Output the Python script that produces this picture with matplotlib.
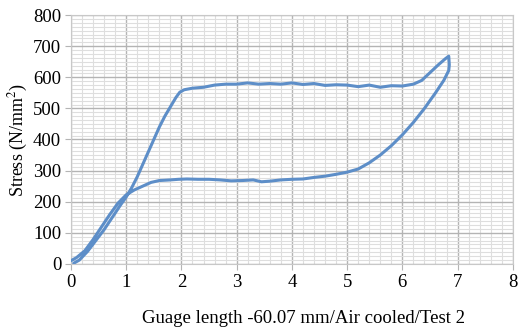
import matplotlib.pyplot as plt
from matplotlib.ticker import MultipleLocator

plt.rcParams['font.family'] = ['Liberation Serif', 'DejaVu Serif']
plt.rcParams['mathtext.fontset'] = 'stix'

# loading part (0 -> peak)
load_x = [0.05, 0.15, 0.3, 0.45, 0.6, 0.75, 0.9, 1.0, 1.1, 1.2, 1.3, 1.4, 1.5, 1.6,
          1.7, 1.8, 1.9, 1.97, 2.05, 2.2, 2.4, 2.6, 2.8, 3.0, 3.2, 3.4, 3.6, 3.8,
          4.0, 4.2, 4.4, 4.6, 4.8, 5.0, 5.2, 5.4, 5.6, 5.8, 6.0, 6.2, 6.35, 6.5,
          6.65, 6.78, 6.84]
load_y = [2, 12, 40, 75, 110, 150, 190, 215, 245, 280, 320, 360, 400, 440,
          475, 505, 535, 552, 560, 565, 568, 575, 578, 578, 582, 578, 580, 578,
          582, 577, 580, 574, 576, 575, 570, 575, 568, 573, 572, 578, 590, 615,
          640, 660, 668]
# unloading part (peak -> back to 0)
unload_x = [6.85, 6.84, 6.75, 6.6, 6.4, 6.2, 6.0, 5.8, 5.6, 5.4, 5.2, 5.0, 4.8,
            4.6, 4.4, 4.2, 4.0, 3.8, 3.6, 3.45, 3.3, 3.1, 2.9, 2.7, 2.5, 2.3,
            2.1, 1.95, 1.8, 1.6, 1.45, 1.3, 1.15, 1.0, 0.85, 0.7, 0.55, 0.4,
            0.25, 0.1, 0.0]
unload_y = [640, 622, 590, 550, 500, 455, 415, 380, 350, 325, 305, 295, 288,
            282, 278, 273, 272, 270, 266, 264, 270, 268, 267, 270, 272, 272,
            273, 272, 270, 268, 262, 250, 238, 222, 195, 158, 118, 78,
            42, 20, 10]

xs = load_x + unload_x
ys = load_y + unload_y

fig = plt.figure(figsize=(5.18, 3.29), dpi=100)
ax = fig.add_axes([0.137, 0.198, 0.853, 0.756])

ax.plot(xs, ys, color='#5d8ec8', lw=2.2, solid_capstyle='round', zorder=3)

ax.set_xlim(0, 8)
ax.set_ylim(0, 800)
ax.xaxis.set_major_locator(MultipleLocator(1))
ax.yaxis.set_major_locator(MultipleLocator(100))
ax.xaxis.set_minor_locator(MultipleLocator(0.2))
ax.yaxis.set_minor_locator(MultipleLocator(12.5))

ax.grid(which='major', color='#b4b4b4', lw=1.0)
ax.grid(which='minor', color='#dedede', lw=0.8)
ax.set_axisbelow(True)

for s in ax.spines.values():
    s.set_color('#c8c8c8')
ax.tick_params(which='major', length=4, color='#b4b4b4', labelsize=13.5, pad=3)
ax.tick_params(which='minor', length=0)

ax.set_xlabel('Guage length -60.07 mm/Air cooled/Test 2', fontsize=13.5, labelpad=14)
ax.xaxis.label.set_x(0.526)
ax.set_ylabel('Stress (N/mm$^2$)', fontsize=13, labelpad=2)

fig.savefig('out.png', dpi=100)
